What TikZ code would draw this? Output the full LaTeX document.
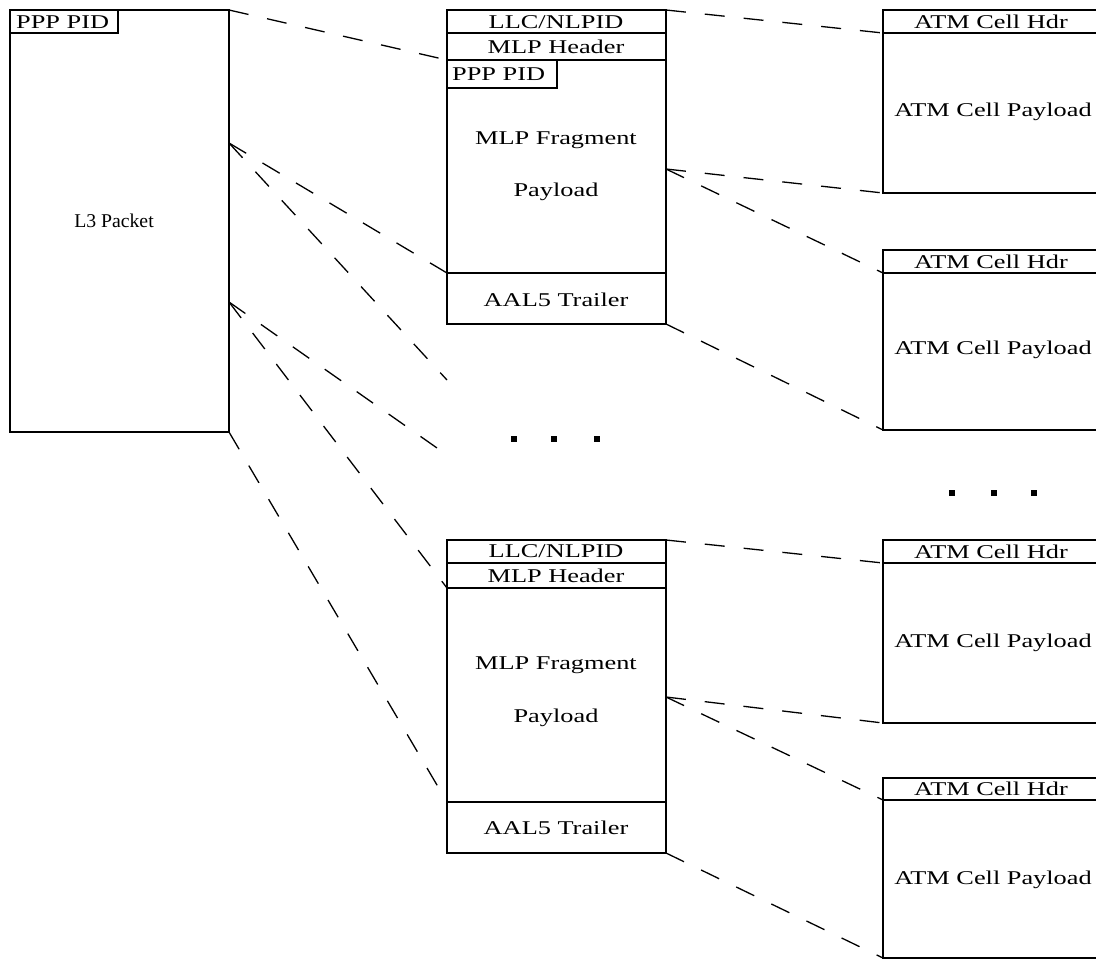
\documentclass[tikz,border=0pt]{standalone}
\usepackage{graphicx}
\usepackage{fontspec}
\setmainfont[FakeStretch=1.35]{Liberation Serif}
\begin{document}
\begin{tikzpicture}[x=1bp,y=-1bp,
  box/.style={draw=black, line width=1.6bp, inner sep=0pt, outer sep=0pt, anchor=north west, rectangle},
  lbl/.style={inner sep=0pt, font=\fontsize{19.5bp}{23bp}\selectfont},
  conn/.style={draw=black, line width=1.3bp, dash pattern=on 20bp off 19bp},
  dotsq/.style={fill=black, inner sep=0pt, minimum size=6bp, rectangle}]
\clip (0,0) rectangle (1096,960);
\fill[white] (0,0) rectangle (1096,960);

% left packet
\node[box, minimum width=219bp, minimum height=422bp] (l3) at (10,10) {};
\node[box, minimum width=108bp, minimum height=23bp] (ppp1) at (10,10) {};
\node[lbl, anchor=west] (ppp1t) at (16,22) {PPP PID};
\node[lbl] (l3t) at (114,221) {\scalebox{0.75}[1]{L3 Packet}};

% upper middle frame
\node[box, minimum width=219bp, minimum height=23bp] (llc1) at (447,10) {};
\node[box, minimum width=219bp, minimum height=27bp] (mlp1) at (447,33) {};
\node[box, minimum width=219bp, minimum height=213bp] (frag1) at (447,60) {};
\node[box, minimum width=110bp, minimum height=28bp] (ppp2) at (447,60) {};
\node[box, minimum width=219bp, minimum height=51bp] (aal1) at (447,273) {};
\node[lbl] (llc1t) at (556,22) {LLC/NLPID};
\node[lbl] (mlp1t) at (556,47) {MLP Header};
\node[lbl, anchor=west] (ppp2t) at (452,74) {PPP PID};
\node[lbl] (frag1a) at (556,140) {MLP Fragment};
\node[lbl] (frag1b) at (556,192) {Payload};
\node[lbl] (aal1t) at (556,300) {AAL5 Trailer};

% lower middle frame
\node[box, minimum width=219bp, minimum height=23bp] (llc2) at (447,540) {};
\node[box, minimum width=219bp, minimum height=25bp] (mlp2) at (447,563) {};
\node[box, minimum width=219bp, minimum height=214bp] (frag2) at (447,588) {};
\node[box, minimum width=219bp, minimum height=51bp] (aal2) at (447,802) {};
\node[lbl] (llc2t) at (556,551) {LLC/NLPID};
\node[lbl] (mlp2t) at (556,576) {MLP Header};
\node[lbl] (frag2a) at (556,665) {MLP Fragment};
\node[lbl] (frag2b) at (556,718) {Payload};
\node[lbl] (aal2t) at (556,828) {AAL5 Trailer};

% ATM cells
\node[box, minimum width=240bp, minimum height=23bp] (h1) at (883,10) {};
\node[box, minimum width=240bp, minimum height=160bp] (c1) at (883,33) {};
\node[box, minimum width=240bp, minimum height=23bp] (h2) at (883,250) {};
\node[box, minimum width=240bp, minimum height=157bp] (c2) at (883,273) {};
\node[box, minimum width=240bp, minimum height=23bp] (h3) at (883,540) {};
\node[box, minimum width=240bp, minimum height=160bp] (c3) at (883,563) {};
\node[box, minimum width=240bp, minimum height=22bp] (h4) at (883,778) {};
\node[box, minimum width=240bp, minimum height=158bp] (c4) at (883,800) {};
\node[lbl] (h1t) at (991,22) {ATM Cell Hdr};
\node[lbl] (h2t) at (991,262) {ATM Cell Hdr};
\node[lbl] (h3t) at (991,552) {ATM Cell Hdr};
\node[lbl] (h4t) at (991,789) {ATM Cell Hdr};
\node[lbl] (c1t) at (993,112) {ATM Cell Payload};
\node[lbl] (c2t) at (993,350) {ATM Cell Payload};
\node[lbl] (c3t) at (993,643) {ATM Cell Payload};
\node[lbl] (c4t) at (993,880) {ATM Cell Payload};

% ellipsis dots
\node[dotsq] (m1) at (514,439) {};
\node[dotsq] (m2) at (554,439) {};
\node[dotsq] (m3) at (597,439) {};
\node[dotsq] (r1) at (952,493) {};
\node[dotsq] (r2) at (994,493) {};
\node[dotsq] (r3) at (1034,493) {};

% connector points
\coordinate (la) at (229,143);
\coordinate (lb) at (229,302);
\coordinate (fa) at (447,380);
\coordinate (fb) at (447,455);
\coordinate (ra) at (666,169);
\coordinate (rb) at (666,697);

% connectors left -> middle
\draw[conn] (l3.north east) -- (frag1.north west);
\draw[conn] (la) -- (frag1.south west);
\draw[conn] (la) -- (fa);
\draw[conn] (lb) -- (fb);
\draw[conn] (lb) -- (frag2.north west);
\draw[conn] (l3.south east) -- (frag2.south west);

% connectors middle -> right
\draw[conn] (llc1.north east) -- (c1.north west);
\draw[conn] (ra) -- (c1.south west);
\draw[conn] (ra) -- (c2.north west);
\draw[conn] (aal1.south east) -- (c2.south west);
\draw[conn] (llc2.north east) -- (c3.north west);
\draw[conn] (rb) -- (c3.south west);
\draw[conn] (rb) -- (c4.north west);
\draw[conn] (aal2.south east) -- (c4.south west);
\end{tikzpicture}
\end{document}
